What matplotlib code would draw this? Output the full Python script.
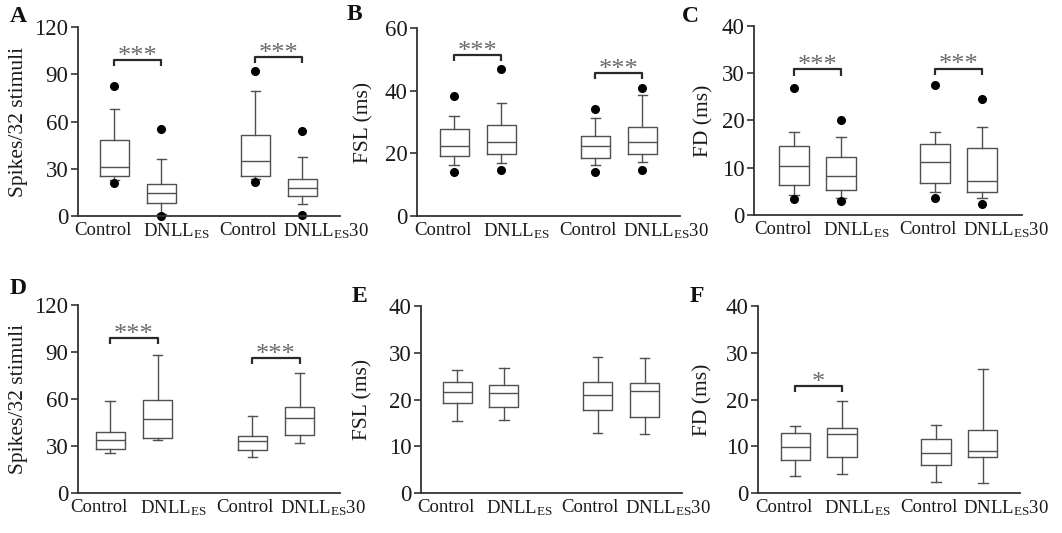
import numpy as np
import matplotlib
matplotlib.use("Agg")
import matplotlib.pyplot as plt

plt.rcParams['font.family'] = ['Liberation Serif', 'DejaVu Serif']
plt.rcParams['mathtext.fontset'] = 'custom'
plt.rcParams['mathtext.rm'] = 'Liberation Serif'
plt.rcParams['mathtext.it'] = 'Liberation Serif:italic'

#labels
groups = ['Control', r'DNLL$_{\mathrm{ES}}$', 'Control', r'DNLL$_{\mathrm{ES}}$30']
panel_names = ['A', 'B', 'C', 'D', 'E', 'F']
ylabels = ['Spikes/32 stimuli', 'FSL (ms)', 'FD (ms)',
           'Spikes/32 stimuli', 'FSL (ms)', 'FD (ms)']
ymax = [120, 60, 40, 120, 40, 40]
yticks = [[0, 30, 60, 90, 120], [0, 20, 40, 60], [0, 10, 20, 30, 40],
          [0, 30, 60, 90, 120], [0, 10, 20, 30, 40], [0, 10, 20, 30, 40]]

# box stats per panel, order: Control, DNLL_ES, Control, DNLL_ES30
# whislo, q1, med, q3, whishi
A_stats = [[22.6, 25.5, 30.9, 48.5, 67.9], [1.3, 8.5, 14.3, 20.6, 36.4],
           [23.4, 25.5, 34.7, 51.3, 79.4], [7.7, 12.6, 17.9, 23.4, 37.4]]
A_fliers = [[82.6, 21.1], [55.3, 0.0], [91.9, 21.9], [54.0, 0.6]]
B_stats = [[16.4, 19.2, 22.2, 27.8, 32.0], [17.0, 19.8, 23.7, 29.0, 36.1],
           [16.2, 18.5, 22.2, 25.6, 31.3], [17.2, 19.9, 23.5, 28.3, 38.5]]
B_fliers = [[38.2, 14.1], [47.0, 14.6], [34.2, 14.2], [40.8, 14.7]]
C_stats = [[4.3, 6.4, 10.3, 14.5, 17.6], [3.5, 5.3, 8.3, 12.3, 16.6],
           [4.9, 6.7, 11.2, 15.1, 17.6], [3.7, 4.9, 7.2, 14.1, 18.7]]
C_fliers = [[26.9, 3.3], [20.1, 3.0], [27.6, 3.6], [24.5, 2.3]]
D_stats = [[25.4, 27.9, 33.7, 39.2, 58.8], [33.7, 35.4, 47.5, 59.3, 88.3],
           [22.8, 27.3, 33.5, 36.7, 49.3], [32.0, 36.9, 47.8, 54.8, 76.8]]
D_fliers = [[], [], [], []]
E_stats = [[15.4, 19.3, 21.6, 23.8, 26.4], [15.7, 18.5, 21.3, 23.2, 26.7],
           [12.8, 17.7, 21.0, 23.8, 29.1], [12.7, 16.2, 21.9, 23.6, 28.8]]
E_fliers = [[], [], [], []]
F_stats = [[3.6, 7.0, 9.9, 12.8, 14.4], [4.0, 7.6, 12.7, 13.9, 19.7],
           [2.3, 5.9, 8.6, 11.6, 14.6], [2.1, 7.8, 9.0, 13.4, 26.6]]
F_fliers = [[], [], [], []]

# significance brackets: (left box, right box, bracket height, stars)
A_sig = [(1, 2, 98.9, '***'), (4, 5, 101.0, '***')]
B_sig = [(1, 2, 51.4, '***'), (4, 5, 45.6, '***')]
C_sig = [(1, 2, 30.8, '***'), (4, 5, 31.0, '***')]
D_sig = [(1, 2, 98.7, '***'), (4, 5, 85.9, '***')]
E_sig = []
F_sig = [(1, 2, 22.8, '*')]

all_stats = [A_stats, B_stats, C_stats, D_stats, E_stats, F_stats]
all_fliers = [A_fliers, B_fliers, C_fliers, D_fliers, E_fliers, F_fliers]
all_sig = [A_sig, B_sig, C_sig, D_sig, E_sig, F_sig]

positions = [1, 2, 4, 5]
label_pos = [0.76, 2.33, 3.84, 5.5]

W, H = 1062, 533
fig = plt.figure(figsize=(W/100, H/100), dpi=100)

# pixel boxes (left, top, right, bottom) and x limits
boxes_px = [(78, 27, 340, 216), (417, 28, 680, 216), (754, 26, 1022, 215),
            (78, 305, 340, 493), (421, 306, 682, 493), (758, 306, 1020, 493)]
xlims = [(0.23, 5.8), (0.21, 5.8), (0.15, 5.85),
         (0.32, 5.85), (0.23, 5.8), (0.21, 5.79)]
ylab_x = [-0.19, -0.167, -0.153, -0.19, -0.184, -0.172]
letter_px = [(18, 17), (354, 15), (690, 16), (18, 289), (359, 297), (697, 297)]

box_col = '#505050'
for i in range(6):
    l, t, r, b = boxes_px[i]
    ax = fig.add_axes([l/W, (H-b)/H, (r-l)/W, (b-t)/H])

    stats = []
    for s, fl in zip(all_stats[i], all_fliers[i]):
        stats.append(dict(whislo=s[0], q1=s[1], med=s[2], q3=s[3], whishi=s[4],
                          fliers=np.array(fl)))
    bp = ax.bxp(stats, positions=positions, widths=0.62, capwidths=0.2,
                boxprops=dict(color=box_col, lw=1.0),
                medianprops=dict(color=box_col, lw=1.0),
                whiskerprops=dict(color=box_col, lw=1.0),
                capprops=dict(color=box_col, lw=1.0),
                flierprops=dict(marker='o', markersize=5.5, markerfacecolor='black',
                                markeredgecolor='black'))
    for f in bp['fliers']:
        f.set_clip_on(False)

    # brackets
    d = 0.032*ymax[i]
    for x1, x2, y, txt in all_sig[i]:
        ax.plot([x1, x1, x2, x2], [y-d, y, y, y-d], color='#2a2a2a', lw=1.6,
                solid_capstyle='butt', clip_on=False)
        ax.annotate(txt, ((x1+x2)/2, y), xytext=(0, -2), textcoords='offset points',
                    ha='center', va='baseline', fontsize=19, color='#6a6a6a')

    ax.set_xlim(xlims[i])
    ax.set_ylim(0, ymax[i])
    ax.set_yticks(yticks[i])
    ax.set_xticks(label_pos)
    ax.set_xticklabels(groups)
    ax.tick_params(axis='x', length=0, pad=4, labelsize=13.5, colors='#1a1a1a')
    ax.tick_params(axis='y', length=5, width=1.2, pad=2, labelsize=16.5,
                   direction='out', color='#333333', labelcolor='#1a1a1a')
    ax.set_ylabel(ylabels[i], fontsize=15.5, color='#1a1a1a')
    ax.yaxis.set_label_coords(ylab_x[i], 0.5)
    for side in ['top', 'right']:
        ax.spines[side].set_visible(False)
    for side in ['left', 'bottom']:
        ax.spines[side].set_color('#333333')
        ax.spines[side].set_linewidth(1.3)

    lx, ly = letter_px[i]
    fig.text(lx/W, 1-ly/H, panel_names[i], fontsize=17, fontweight='bold',
             ha='center', va='center', color='#111111')

fig.savefig('out.png', dpi=100, facecolor='white')
